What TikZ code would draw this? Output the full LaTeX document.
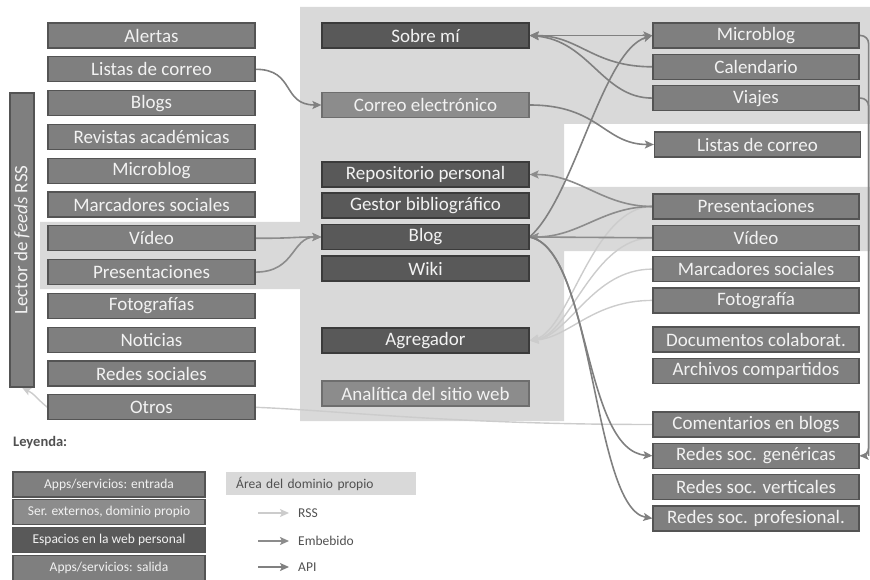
\documentclass[tikz,border=0pt]{standalone}
\usepackage{fontspec}
\setmainfont{Carlito}
\usetikzlibrary{positioning,arrows.meta,backgrounds}
\definecolor{dgarea}{RGB}{217,217,217}
\definecolor{dgin}{RGB}{127,127,127}
\definecolor{dgext}{RGB}{140,140,140}
\definecolor{dgweb}{RGB}{89,89,89}
\definecolor{dgline}{RGB}{84,84,84}
\definecolor{dgtext}{RGB}{242,242,242}
\definecolor{dgrss}{RGB}{204,204,204}
\definecolor{dgemb}{RGB}{140,140,140}
\definecolor{dgapi}{RGB}{128,128,128}
\definecolor{dglabel}{RGB}{80,80,80}
\tikzset{
  srvbox/.style={draw=dgline, fill=dgin, text=dgtext, line width=1.2pt, inner sep=0pt, minimum width=207pt, minimum height=25pt, font=\fontsize{19}{20}\selectfont},
  outbox/.style={srvbox, minimum width=206pt},
  extbox/.style={srvbox, fill=dgext, draw=dgline!85},
  webbox/.style={srvbox, fill=dgweb, draw=dgline!70!black},
  keybox/.style={srvbox, minimum width=192pt, font=\fontsize{13.5}{15}\selectfont},
  keytext/.style={text=dglabel, font=\fontsize{13.5}{15}\selectfont, inner sep=2pt, anchor=west},
  rss/.style={->, line width=1.4pt, dgrss},
  emb/.style={->, line width=1.6pt, dgemb},
  api/.style={->, line width=1.6pt, dgapi}
}

\begin{document}
\begin{tikzpicture}[x=1pt, y=-1pt, node distance=7.6pt, >={Stealth[length=9pt,width=8pt,inset=2pt]}]
  \useasboundingbox (0,0) rectangle (870,580);
  % apps / servicios de entrada
  \node[srvbox] (alertas) at (151.5,35.5) {Alertas};
  \node[srvbox, below=of alertas] (llistas) {Listas de correo};
  \node[srvbox, below=of llistas] (lblogs) {Blogs};
  \node[srvbox, below=of lblogs] (lrevistas) {Revistas académicas};
  \node[srvbox, below=of lrevistas] (lmicro) {Microblog};
  \node[srvbox, below=of lmicro] (lmarc) {Marcadores sociales};
  \node[srvbox, below=of lmarc] (lvideo) {Vídeo};
  \node[srvbox, below=of lvideo] (lpres) {Presentaciones};
  \node[srvbox, below=of lpres] (lfotos) {Fotografías};
  \node[srvbox, below=of lfotos] (lnoticias) {Noticias};
  \node[srvbox, below=of lnoticias] (lredes) {Redes sociales};
  \node[srvbox, below=of lredes] (lotros) {Otros};
  \node[srvbox, rotate=90, minimum width=294pt, minimum height=24pt] (lector) at (22,240) {Lector de \textit{feeds} RSS};

  % web personal
  \node[webbox] (sobremi) at (425.5,35.5) {Sobre mí};
  \node[extbox] (correo) at (425.5,105) {Correo electrónico};
  \node[webbox] (repo) at (425.5,174.5) {Repositorio personal};
  \node[webbox, below=4.8pt of repo] (gestor) {Gestor bibliográfico};
  \node[webbox, below=5.3pt of gestor] (blog) {Blog};
  \node[webbox, below=5.3pt of blog] (wiki) {Wiki};
  \node[webbox] (agreg) at (425.5,340.5) {Agregador};
  \node[extbox] (analitica) at (425.5,393.5) {Analítica del sitio web};

  % apps / servicios de salida
  \node[outbox] (rmicro) at (756,35.5) {Microblog};
  \node[outbox, below=5.1pt of rmicro] (rcal) {Calendario};
  \node[outbox, below=5.1pt of rcal] (rviajes) {Viajes};
  \node[outbox] (rlistas) at (757.5,144.5) {Listas de correo};
  \node[outbox] (rpres) at (756,206.5) {Presentaciones};
  \node[outbox, below=5.1pt of rpres] (rvideo) {Vídeo};
  \node[outbox, below=5.1pt of rvideo] (rmarc) {Marcadores sociales};
  \node[outbox, below=5.1pt of rmarc] (rfoto) {Fotografía};
  \node[outbox] (rdocs) at (756,339.5) {Documentos colaborat.};
  \node[outbox, below=5.1pt of rdocs] (rarch) {Archivos compartidos};
  \node[outbox] (rcoment) at (756,424.5) {Comentarios en blogs};
  \node[outbox, below=5.1pt of rcoment] (rgen) {Redes soc. genéricas};
  \node[outbox, below=5.1pt of rgen] (rvert) {Redes soc. verticales};
  \node[outbox, below=5.1pt of rvert] (rprof) {Redes soc. profesional.};

  % leyenda
  \node[text=dglabel, font=\bfseries\fontsize{14.5}{16}\selectfont, anchor=west, inner sep=0pt] (leyenda) at (13,443) {Leyenda:};
  \node[keybox] (kin) at (109,484.5) {Apps/servicios: entrada};
  \node[keybox, fill=dgext, below=1.5pt of kin] (kext) {Ser. externos, dominio propio};
  \node[keybox, fill=dgweb, below=1.5pt of kext] (kweb) {Espacios en la web personal};
  \node[keybox, below=1.5pt of kweb] (kout) {Apps/servicios: salida};
  \node[keytext, fill=dgarea, minimum height=23pt, text width=170pt, inner xsep=10pt] (karea) at (226,483.5) {Área del dominio propio};
  \node[keytext] (krss) at (296,513) {RSS};
  \node[keytext] (kemb) at (296,541) {Embebido};
  \node[keytext] (kapi) at (296,567) {API};
  \coordinate[left=38pt of krss.west] (krssa);
  \coordinate[left=38pt of kemb.west] (kemba);
  \coordinate[left=38pt of kapi.west] (kapia);
  \draw[rss, shorten >=7pt] (krssa) -- (krss.west);
  \draw[emb, shorten >=7pt] (kemba) -- (kemb.west);
  \draw[api, shorten >=7pt] (kapia) -- (kapi.west);

  \begin{scope}[on background layer]
    % area del dominio propio
    \fill[dgarea] (300,7) -- (870,7) -- (870,124) -- (564,124) -- (564,187) -- (870,187) -- (870,251) -- (564,251)
      -- (564,421) -- (300,421) -- (300,289) -- (40,289) -- (40,222) -- (300,222) -- cycle;
    % RSS
    \draw[rss] (rpres.west) .. controls +(-60,0) and +(40,-10) .. (agreg.east);
    \draw[rss] (rvideo.west) .. controls +(-60,0) and +(40,-5) .. (agreg.east);
    \draw[rss] (rmarc.west) .. controls +(-60,0) and +(40,-5) .. (agreg.east);
    \draw[rss] (rfoto.west) .. controls +(-60,0) and +(40,-3) .. (agreg.east);
    \draw[rss] (rcoment.west) .. controls +(-200,0) and +(80,3) .. (lotros.east) -- (lotros.west)
      .. controls +(-10,-8) and +(12,6) .. (lector.west);
    % embebido
    \draw[emb] (lvideo.east) .. controls +(40,0) and +(-30,0) .. (blog.west);
    \draw[emb] (lpres.east) .. controls +(40,0) and +(-30,0) .. (blog.west);
    \draw[emb] (rpres.west) .. controls +(-50,0) and +(50,0) .. (repo.east);
    \draw[emb] (rpres.west) .. controls +(-50,0) and +(50,0) .. (blog.east);
    \draw[emb] (rvideo.west) -- (blog.east);
    % API
    \draw[api] (llistas.east) .. controls +(40,0) and +(-40,0) .. (correo.west);
    \draw[api, <->] (sobremi.east) -- (rmicro.west);
    \draw[api] (rcal.west) .. controls +(-60,0) and +(50,0) .. (sobremi.east);
    \draw[api] (rviajes.west) .. controls +(-50,0) and +(60,5) .. (sobremi.east);
    \draw[api] (correo.east) .. controls +(70,0) and +(-50,0) .. (rlistas.west);
    \draw[api] (blog.east) .. controls +(45,-40) and +(-50,15) .. (rmicro.west);
    \draw[api] (blog.east) .. controls +(60,12) and +(-70,-5) .. (rgen.west);
    \draw[api] (blog.east) .. controls +(65,12) and +(-60,-10) .. (rprof.west);
    \draw[api, rounded corners=8pt] (rmicro.east) -| ([xshift=9pt]rgen.east) -- (rgen.east);
    \draw[api, -, rounded corners=8pt] (rviajes.east) -| ([xshift=9pt]rgen.east);
  \end{scope}
\end{tikzpicture}
\end{document}
